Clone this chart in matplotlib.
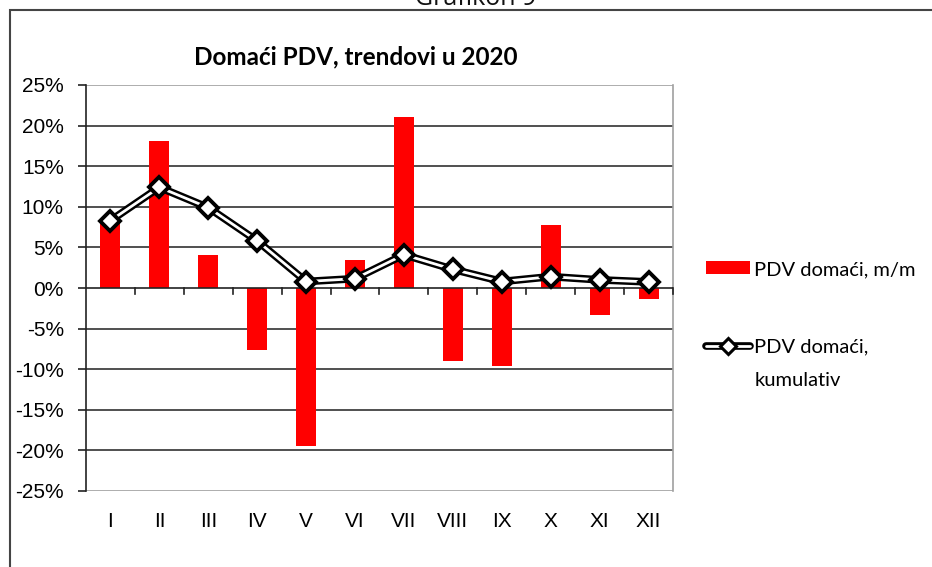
import matplotlib
matplotlib.use("Agg")
import matplotlib.pyplot as plt
from matplotlib.patches import Patch, Rectangle
from matplotlib.lines import Line2D
from matplotlib.legend_handler import HandlerTuple
import numpy as np

months = ["I", "II", "III", "IV", "V", "VI", "VII", "VIII", "IX", "X", "XI", "XII"]
mm_values = [8.4, 18.1, 4.1, -7.6, -19.5, 3.4, 21.0, -9.0, -9.6, 7.7, -3.3, -1.3]
cum_values = [8.3, 12.4, 9.9, 5.8, 0.8, 1.15, 4.1, 2.3, 0.8, 1.4, 1.0, 0.75]
yticks = [-25, -20, -15, -10, -5, 0, 5, 10, 15, 20, 25]
title = "Domaći PDV, trendovi u 2020"
label_mm = "PDV domaći, m/m"
label_cum_1 = "PDV domaći,"
label_cum_2 = "kumulativ"

W, H = 932, 567
fig = plt.figure(figsize=(W / 100, H / 100), dpi=100)

# outer frame
fig.patches.append(Rectangle((10 / W, -0.1), 1.2, 1 - 10 / H + 0.1,
                             transform=fig.transFigure, fill=False,
                             edgecolor="#444444", linewidth=1.5))
fig.text(476 / W, 1 - 5 / H, "Grafikon 9", ha="center", va="baseline",
         fontsize=18, family="Open Sans", color="#111111")

ax = fig.add_axes([86 / W, 1 - 491 / H, (673 - 86) / W, (491 - 85) / H])
x = np.arange(len(months))

for v in yticks:
    if v in (25, -25):
        ax.axhline(v, color="#a0a0a0", lw=1.2, zorder=0)
    elif v != 0:
        ax.axhline(v, color="#505050", lw=1.4, zorder=0)

ax.bar(x, mm_values, width=0.41, color="#ff0000", zorder=2)
ax.axhline(0, color="#222222", lw=1.2, zorder=2.5)
for b in np.arange(1, len(months) + 1) - 0.5:
    ax.plot([b, b], [0, -0.75], color="#222222", lw=1.2, zorder=2.5,
            clip_on=False)

ax.plot(x, cum_values, color="black", lw=5.5, zorder=3)
ax.plot(x, cum_values, color="white", lw=2, zorder=4)
ax.plot(x, cum_values, ls="none", marker="D", ms=10, mfc="white", mec="black",
        mew=2.8, zorder=5)

ax.set_xlim(-0.5, len(months) - 0.5)
ax.set_ylim(-25, 25)
ax.set_yticks(yticks)
ax.set_yticklabels([f"{v}%" for v in yticks], family="Liberation Sans",
                   fontsize=15)
ax.set_xticks(x)
ax.set_xticklabels(months, family="Liberation Sans", fontsize=15)
ax.tick_params(axis="x", length=0, pad=15)
ax.tick_params(axis="y", length=6, width=1.2, color="#222222", pad=10,
               direction="out")
for s in ["top", "right", "bottom"]:
    ax.spines[s].set_visible(False)
ax.spines["left"].set_color("#222222")
ax.spines["left"].set_linewidth(1.2)
ax.plot([1, 1], [0, 1], transform=ax.transAxes, color="#a0a0a0", lw=1.2,
        clip_on=False, zorder=0)

fig.text(356 / W, 1 - 57 / H, title, ha="center", va="center",
         fontsize=17.5, fontweight="bold", family="Lato")

h_bar = Patch(facecolor="#ff0000", edgecolor="none")
h_cum = (Line2D([], [], color="black", lw=5.5, solid_capstyle="round"),
         Line2D([], [], color="white", lw=2, solid_capstyle="round"),
         Line2D([], [], ls="none", marker="D", ms=8, mfc="white", mec="black",
                mew=2.2))
leg = fig.legend([h_bar, h_cum], [label_mm, label_cum_1],
                 handler_map={tuple: HandlerTuple(ndivide=1, pad=0)},
                 loc="upper left", bbox_to_anchor=(706 / W, 1 - 261 / H),
                 frameon=False, prop={"family": "Lato", "size": 14.5},
                 handlelength=2.2, handleheight=0.62, handletextpad=0.2,
                 labelspacing=3.0, borderaxespad=0, borderpad=0)
fig.text(755 / W, 1 - 380 / H, label_cum_2, ha="left", va="center",
         family="Lato", fontsize=14.5)

fig.savefig("out.png", dpi=100)
